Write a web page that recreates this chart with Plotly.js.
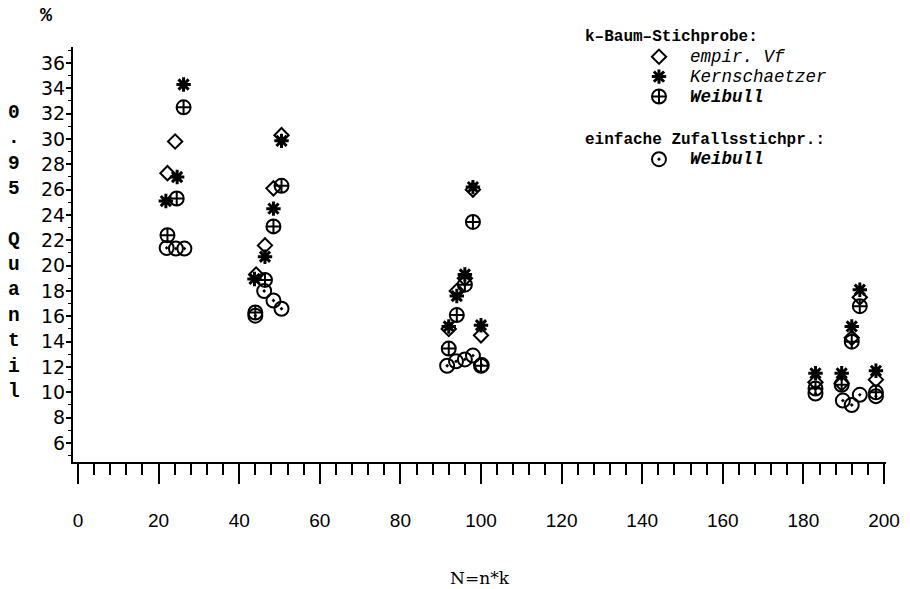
<!DOCTYPE html>
<html>
<head>
<meta charset="utf-8">
<script src="https://cdn.plot.ly/plotly-3.0.1.min.js"></script>
<style>html,body{margin:0;padding:0;background:#fff;}#chart{width:910px;height:589px;}</style>
</head>
<body>
<div id="chart"></div>
<script>
// N = n*k (x) and 0.95-Quantil in % (y)
const nEmpir = [22.2, 24.1, 44.2, 46.4, 48.5, 50.5, 92.0, 94.0, 96.0, 98.0, 100.0, 183.0, 189.5, 192.0, 194.0, 198.0];
const qEmpir = [27.3, 29.8, 19.3, 21.6, 26.1, 30.3, 15.0, 18.0, 19.0, 26.0, 14.5, 10.8, 10.7, 14.3, 17.5, 11.0];

const nKern = [21.8, 24.6, 26.2, 43.8, 46.4, 48.5, 50.5, 92.0, 94.0, 96.0, 98.0, 100.0, 183.0, 189.5, 192.0, 194.0, 198.0];
const qKern = [25.1, 27.0, 34.3, 18.95, 20.7, 24.5, 29.85, 15.2, 17.6, 19.3, 26.2, 15.3, 11.5, 11.5, 15.2, 18.1, 11.7];

const nWeibK = [22.2, 24.5, 26.2, 44.0, 46.4, 48.5, 50.5, 92.0, 94.0, 96.0, 98.0, 100.0, 183.0, 189.5, 192.0, 194.0, 198.0];
const qWeibK = [22.4, 25.3, 32.5, 16.3, 18.87, 23.1, 26.3, 13.45, 16.1, 18.5, 23.45, 12.1, 10.3, 10.6, 14.0, 16.8, 10.0];

const nWeibE = [22.0, 24.3, 26.4, 44.0, 46.2, 48.5, 50.5, 91.6, 93.8, 96.0, 98.0, 100.2, 183.0, 189.8, 192.0, 194.0, 198.0];
const qWeibE = [21.4, 21.35, 21.35, 16.05, 18.0, 17.25, 16.6, 12.1, 12.45, 12.6, 12.9, 12.15, 9.9, 9.35, 9.0, 9.8, 9.7];

const yTicks = [6, 8, 10, 12, 14, 16, 18, 20, 22, 24, 26, 28, 30, 32, 34, 36];
const groupTitleK = 'k\u2013Baum\u2013Stichprobe:';
const groupTitleE = 'einfache Zufallsstichpr.:';
const seriesNames = ['empir. Vf', 'Kernschaetzer', 'Weibull', 'Weibull'];
const yTitleChars = ['0', '.', '9', '5', '\u00a0', 'Q', 'u', 'a', 'n', 't', 'i', 'l'];

const ink = '#000';
const gtFont = {family: 'Liberation Mono, Courier New, monospace', size: 16, color: ink, weight: 'bold'};

function label(name, bold) {
  const s = '<span style="font-size:17.5px">' + '<i>' + name + '</i>' + '</span>';
  return bold ? '<b>' + s + '</b>' : s;
}

function mk(x, y, name, group, gtitle, symbol, size, lw) {
  return {
    type: 'scatter', mode: 'markers', x: x, y: y, name: name,
    legendgroup: group,
    legendgrouptitle: {text: gtitle, font: gtFont},
    marker: {symbol: symbol, size: size, color: ink, line: {color: ink, width: lw}},
    hoverinfo: 'x+y'
  };
}

const data = [
  mk(nEmpir, qEmpir, label(seriesNames[0], false), 'k', groupTitleK, 'diamond-open', 11, 2),
  mk(nKern, qKern, label(seriesNames[1], false), 'k', groupTitleK, 'asterisk-open', 12, 3),
  mk(nWeibK, qWeibK, label(seriesNames[2], true), 'k', groupTitleK, 'circle-cross-open', 14, 2),
  mk(nWeibE, qWeibE, label(seriesNames[3], true), 'e', groupTitleE, 'circle-open-dot', 14, 2)
];

const layout = {
  width: 910, height: 589,
  margin: {l: 73, r: 24, t: 47, b: 127},
  paper_bgcolor: '#fff', plot_bgcolor: '#fff',
  showlegend: true,
  font: {family: 'DejaVu Sans, sans-serif', color: ink},
  xaxis: {
    range: [-1.24, 200.5],
    showline: true, linecolor: ink, linewidth: 2,
    showgrid: false, zeroline: false,
    ticks: 'outside', tickmode: 'linear', tick0: 0, dtick: 20,
    ticklen: 20, tickwidth: 1.5, tickcolor: ink,
    minor: {ticks: 'outside', tick0: 0, dtick: 4, ticklen: 11, tickwidth: 1.5, tickcolor: ink, showgrid: false},
    ticklabelstandoff: 20,
    tickfont: {family: 'Liberation Sans Narrow, Liberation Sans, sans-serif', size: 19, color: ink},
    title: {text: 'N=n*k', font: {family: 'DejaVu Serif, serif', size: 17, color: ink}, standoff: 42}
  },
  yaxis: {
    range: [4.5, 37.26],
    showline: true, linecolor: ink, linewidth: 2,
    showgrid: false, zeroline: false,
    ticks: 'outside', tickmode: 'array', tickvals: yTicks,
    ticklen: 5, tickwidth: 1.5, tickcolor: ink,
    minor: {ticks: 'outside', tick0: 0, dtick: 1, ticklen: 3, tickwidth: 1, tickcolor: ink, showgrid: false},
    ticklabelstandoff: -3,
    tickfont: {family: 'DejaVu Sans, sans-serif', size: 19, color: ink}
  },
  legend: {
    x: 0.6236, xanchor: 'left', y: 1.070, yanchor: 'top',
    bgcolor: 'rgba(0,0,0,0)', borderwidth: 0,
    font: {family: 'Liberation Mono, Courier New, monospace', size: 13, color: ink},
    itemwidth: 52, indentation: 48, tracegroupgap: 19,
    itemclick: false, itemdoubleclick: false
  },
  annotations: [
    {xref: 'paper', yref: 'paper', x: -0.033, y: 1.077, xanchor: 'center', yanchor: 'middle',
     text: '%', showarrow: false, font: {family: 'Liberation Mono, monospace', size: 20, color: ink, weight: 'bold'}},
    {xref: 'paper', yref: 'y', x: -0.0726, y: 21.0, xanchor: 'center', yanchor: 'middle',
     text: yTitleChars.join('<br>'), showarrow: false, align: 'center',
     font: {family: 'Liberation Mono, Courier New, monospace', size: 19.5, color: ink, weight: 'bold'}}
  ]
};

Plotly.newPlot('chart', data, layout, {displayModeBar: false});
</script>
</body>
</html>
